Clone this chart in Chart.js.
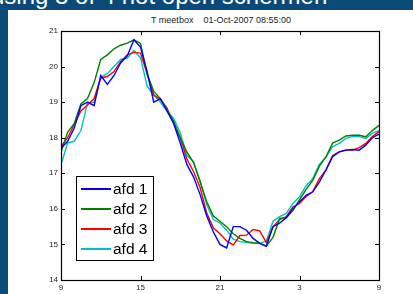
<!DOCTYPE html>
<html>
<head>
<meta charset="utf-8">
<script src="https://cdn.jsdelivr.net/npm/chart.js@4/dist/chart.umd.min.js"></script>
<style>
    html, body { margin: 0; padding: 0; }
    body { width: 413px; height: 294px; background: #0b4a78; position: relative; overflow: hidden; font-family: Arial, "Liberation Sans", sans-serif; }
    #slideTitle { position: absolute; left: -9px; top: -16px; font-size: 24px; line-height: 24px; color: #ffffff; white-space: pre; }
    #panel { position: absolute; left: 8px; top: 10px; width: 405px; height: 284px; background: #ffffff; }
    #plotTitle { position: absolute; left: 0; width: 426px; top: 5px; text-align: center; font-size: 9px; color: #222; white-space: pre; }
    #chartBox { position: absolute; left: 0; top: 0; width: 405px; height: 284px; }
</style>
</head>
<body>
<div id="slideTitle">using 3 of 4 not open schermen</div>
<div id="panel">
    <div id="plotTitle">T meetbox    01-Oct-2007 08:55:00</div>
    <div id="chartBox"><canvas id="tempChart"></canvas></div>
</div>
<script>
// hours since midnight of the first day (09:00 .. 09:00 next day)
var hours = [9, 9.5, 10, 10.5, 11, 11.5, 12, 12.5, 13, 13.5, 14, 14.5, 15, 15.5, 16, 16.5, 17, 17.5,
    18, 18.5, 19, 19.5, 20, 20.5, 21, 21.5, 22, 22.5, 23, 23.5, 24, 24.5, 25, 25.5, 26, 26.5,
    27, 27.5, 28, 28.5, 29, 29.5, 30, 30.5, 31, 31.5, 32, 32.5, 33];

var afd1 = [17.7, 17.9, 18.27, 18.9, 19.0, 18.9, 19.75, 19.5, 19.75, 20.1, 20.3, 20.75, 20.55, 19.85, 19.0, 19.1, 18.75, 18.4,
    17.85, 17.25, 16.9, 16.4, 15.8, 15.35, 15.0, 14.9, 15.5, 15.5, 15.4, 15.17, 15.03, 14.95, 15.5, 15.6, 15.75, 16.0,
    16.2, 16.38, 16.48, 16.75, 17.1, 17.47, 17.6, 17.65, 17.67, 17.65, 17.79, 18.0, 18.1];

var afd2 = [17.6, 18.15, 18.4, 18.95, 19.1, 19.55, 20.2, 20.33, 20.5, 20.6, 20.66, 20.75, 20.65, 19.8, 19.3, 19.1, 18.8, 18.46,
    18.0, 17.6, 17.3, 16.77, 16.2, 15.8, 15.65, 15.5, 15.3, 15.17, 15.08, 15.05, 15.03, 14.95, 15.2, 15.73, 15.75, 15.95,
    16.25, 16.55, 16.8, 17.2, 17.46, 17.85, 17.93, 18.05, 18.07, 18.07, 18.03, 18.2, 18.35];

var afd3 = [17.75, 18.0, 18.37, 18.75, 18.92, 19.1, 19.68, 19.72, 19.86, 20.14, 20.33, 20.4, 20.38, 19.8, 19.2, 19.08, 18.83, 18.4,
    17.99, 17.4, 17.05, 16.6, 15.88, 15.46, 15.3, 15.1, 14.98, 15.25, 15.26, 15.42, 15.38, 15.05, 15.5, 15.7, 15.78, 16.05,
    16.15, 16.35, 16.48, 16.85, 17.09, 17.5, 17.6, 17.65, 17.65, 17.72, 17.84, 18.03, 18.17];

var afd4 = [17.24, 17.85, 17.9, 18.2, 18.97, 19.0, 19.7, 19.8, 20.0, 20.2, 20.24, 20.45, 20.25, 19.45, 19.2, 19.0, 18.74, 18.55,
    18.13, 17.5, 17.33, 16.77, 16.12, 15.7, 15.6, 15.4, 15.15, 15.08, 15.06, 15.03, 15.03, 15.1, 15.65, 15.78, 15.87, 16.15,
    16.34, 16.65, 16.85, 17.25, 17.46, 17.75, 17.84, 17.98, 18.03, 18.03, 17.98, 18.12, 18.2];

var seriesNames = ['afd 1', 'afd 2', 'afd 3', 'afd 4'];
var seriesColors = ['#0000ff', '#008000', '#ff0000', '#00bfbf'];
var yTicks = [14, 15, 16, 17, 18, 19, 20, 21];
var xTicks = [9, 15, 21, 27, 33];

function toPoints(values) {
    return values.map(function(v, i) { return { x: hours[i], y: v }; });
}

// MATLAB style frame with inward ticks on all sides
var framePlugin = {
    id: 'frame',
    afterDatasetsDraw: function(chart) {
        var ctx = chart.ctx;
        var a = chart.chartArea;
        var xs = chart.scales.x;
        var ys = chart.scales.y;
        ctx.save();
        ctx.strokeStyle = '#000';
        ctx.lineWidth = 1;
        ctx.beginPath();
        xTicks.forEach(function(t) {
            var px = Math.round(xs.getPixelForValue(t)) + 0.5;
            ctx.moveTo(px, a.bottom); ctx.lineTo(px, a.bottom - 4);
            ctx.moveTo(px, a.top); ctx.lineTo(px, a.top + 4);
        });
        yTicks.forEach(function(t) {
            var py = Math.round(ys.getPixelForValue(t)) + 0.5;
            ctx.moveTo(a.left, py); ctx.lineTo(a.left + 4, py);
            ctx.moveTo(a.right, py); ctx.lineTo(a.right - 4, py);
        });
        ctx.stroke();
        ctx.lineWidth = 1.2;
        ctx.strokeRect(Math.round(a.left) + 0.5, Math.round(a.top) + 0.5, Math.round(a.right - a.left), Math.round(a.bottom - a.top));
        ctx.restore();
    }
};

// legend box inside the plot, lower left
var boxLegendPlugin = {
    id: 'boxLegend',
    afterDraw: function(chart) {
        var ctx = chart.ctx;
        var a = chart.chartArea;
        var left = a.left + 15, top = a.top + 145;
        ctx.save();
        ctx.fillStyle = '#fff';
        ctx.fillRect(left, top, 77, 84);
        ctx.strokeStyle = '#000';
        ctx.lineWidth = 1;
        ctx.strokeRect(left + 0.5, top + 0.5, 77, 84);
        ctx.font = '15.5px Arial, "Liberation Sans", sans-serif';
        ctx.textBaseline = 'middle';
        chart.data.datasets.forEach(function(ds, i) {
            var cy = top + 13 + i * 20;
            ctx.strokeStyle = ds.borderColor;
            ctx.lineWidth = 2;
            ctx.beginPath();
            ctx.moveTo(left + 5, cy); ctx.lineTo(left + 35, cy);
            ctx.stroke();
            ctx.fillStyle = '#000';
            ctx.fillText(ds.label, left + 37, cy + 1);
        });
        ctx.restore();
    }
};

document.addEventListener('DOMContentLoaded', function() {
    var ctx = document.getElementById('tempChart');
    var allSeries = [afd1, afd2, afd3, afd4];

    new Chart(ctx, {
        type: 'line',
        data: {
            datasets: allSeries.map(function(s, i) {
                return {
                    label: seriesNames[i],
                    data: toPoints(s),
                    borderColor: seriesColors[i],
                    backgroundColor: seriesColors[i],
                    borderWidth: 1.4,
                    pointRadius: 0,
                    tension: 0,
                    fill: false
                };
            })
        },
        options: {
            responsive: true,
            maintainAspectRatio: false,
            animation: false,
            layout: { padding: { top: 21, right: 34, left: 0, bottom: 0 } },
            plugins: {
                legend: { display: false },
                tooltip: { enabled: false }
            },
            scales: {
                x: {
                    type: 'linear',
                    min: 9,
                    max: 33,
                    afterBuildTicks: function(scale) {
                        scale.ticks = xTicks.map(function(v) { return { value: v }; });
                    },
                    afterFit: function(scale) { scale.height = 14; },
                    grid: { display: false, drawTicks: false },
                    border: { display: false },
                    ticks: {
                        padding: 3,
                        color: '#222',
                        font: { size: 8, family: 'Arial' },
                        maxRotation: 0,
                        callback: function(value) { return String(value % 24); }
                    }
                },
                y: {
                    min: 14,
                    max: 21,
                    afterBuildTicks: function(scale) {
                        scale.ticks = yTicks.map(function(v) { return { value: v }; });
                    },
                    afterFit: function(scale) { scale.width = 53; },
                    grid: { display: false, drawTicks: false },
                    border: { display: false },
                    ticks: {
                        padding: 3,
                        color: '#222',
                        font: { size: 8, family: 'Arial' }
                    }
                }
            }
        },
        plugins: [framePlugin, boxLegendPlugin]
    });
});
</script>
</body>
</html>
